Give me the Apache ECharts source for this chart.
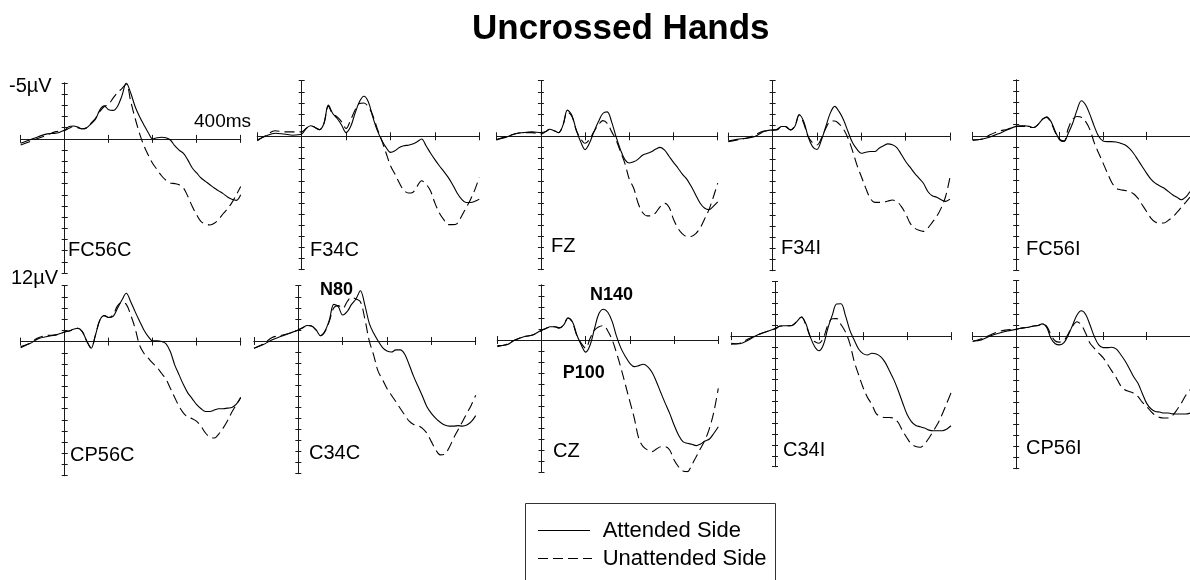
<!DOCTYPE html>
<html><head><meta charset="utf-8">
<script src="https://cdn.jsdelivr.net/npm/echarts@6/dist/echarts.min.js"></script>
<style>html,body{margin:0;padding:0;background:#fff}#c{width:1190px;height:580px}</style>
</head><body><div id="c"></div>
<script>
// time points (ms)
const times = [-100,-80,-60,-40,-20,0,10,20,30,40,50,60,70,80,90,100,110,120,130,140,150,160,170,180,190,200,210,220,230,240,250,260,270,280,290,300,310,320,330,340,350,360,370,380,390,400];
const channels = ['FC56C','F34C','FZ','F34I','FC56I','CP56C','C34C','CZ','C34I','CP56I'];

// amplitudes (µV, negative up)
const attFC56C = [0.4,0.1,-0.2,-0.45,-0.5,-0.8, -1.1,-1.15,-1.05,-0.9,-1.0,-1.35,-1.75,-2.6,-2.95,-2.6, -2.55,-2.9,-3.85,-5.0,-4.1,-2.9,-2.0,-1.25,-0.55,0, -0.1,-0.15,-0.1,0.1,0.6,1.0,1.3,1.9,2.6,3.05, 3.5,3.8,4.1,4.4,4.65,4.9,5.2,5.4,5.5,5.0];
const unFC56C = [0.55,0.25,-0.05,-0.35,-0.65,-0.75, -0.95,-1.1,-1.0,-0.9,-1.0,-1.4,-1.85,-2.45,-2.9,-3.1, -3.65,-4.15,-4.5,-4.9,-3.35,-1.85,-0.5,0.6,1.45,2.2, 2.75,3.3,3.7,3.95,4.0,4.1,4.4,5.15,6.05,6.8, 7.4,7.6,7.7,7.55,7.2,6.7,6.25,5.7,5.0,4.25];
const attF34C = [0.33,-0.03,-0.27,-0.2,-0.1,-0.2, -0.7,-0.95,-0.8,-0.6,-1.15,-2.8,-2.05,-1.6,-1.0,-0.33, -0.85,-2.05,-3.1,-3.6,-3.1,-1.75,-0.55,0.33,1.0,1.45, 1.3,1.0,0.85,0.8,0.7,0.5,0.25,0.85,1.5,2.1, 2.65,3.15,3.7,4.35,5.1,5.65,5.95,5.95,5.85,5.65];
const unF34C = [0.4,-0.1,-0.5,-0.4,-0.4,-0.4, -0.7,-0.95,-0.8,-0.6,-1.15,-2.7,-2.0,-1.75,-1.3,-0.7, -1.45,-2.35,-2.95,-3.0,-2.65,-1.9,-0.7,0.33,1.5,2.65, 3.4,4.2,4.85,5.1,5.05,4.5,4.0,4.3,4.9,6.0, 6.9,7.5,7.95,7.95,7.85,7.2,6.45,5.7,4.8,3.7];
const attFZ = [0.27,0.1,-0.2,-0.33,-0.4,-0.33, -0.4,-0.63,-0.5,-0.33,-1.0,-2.35,-1.9,-0.55,0.5,1.2, 0.6,-0.4,-1.3,-2.05,-2.2,-1.3,0.03,1.2,2.1,2.4, 2.3,2.05,1.7,1.55,1.4,1.15,1.0,1.25,1.8,2.35, 2.85,3.4,3.85,4.5,5.25,6.0,6.45,6.6,6.3,5.9];
const unFZ = [0.33,0.03,-0.2,-0.33,-0.33,-0.2, -0.4,-0.63,-0.5,-0.33,-1.0,-2.2,-1.8,-0.55,0.2,0.63, 0.27,-0.42,-1.02,-1.41,-1.17,-0.42,0.33,1.38,2.43,3.86, 4.67,6.02,6.86,7.16,7.16,6.86,6.32,6.02,6.38,7.46, 8.26,8.77,9.01,9.01,8.77,8.26,7.46,6.62,5.48,4.22];
const attF34I = [0.4,0.25,0.15,0,-0.45,-0.6, -0.6,-0.9,-0.9,-0.6,-0.9,-1.95,-1.35,0,0.9,1.15, 0.3,-0.9,-2.1,-2.7,-2.23,-1.49,-0.45,0.54,1.13,1.49, 1.4,1.34,1.34,1.04,0.83,0.65,0.74,0.98,1.58,2.23, 2.74,3.27,3.72,4.17,4.91,5.3,5.42,5.65,5.8,5.6];
const unF34I = [0.45,0.3,0.15,-0.15,-0.5,-0.55, -0.65,-0.9,-0.85,-0.6,-0.95,-1.95,-1.2,0,0.55,0.75, 0.15,-0.75,-1.35,-1.4,-1.13,-0.65,0.15,1.25,2.53,3.57, 4.61,5.5,5.89,5.89,5.86,5.77,5.68,5.8,6.25,6.9, 7.74,8.18,8.39,8.48,8.18,7.68,7.14,6.4,5.36,3.63];
const attFC56I = [0.4,0.3,0.1,-0.2,-0.55,-0.85, -0.9,-0.9,-0.85,-0.75,-1.0,-1.45,-1.7,-1.3,-0.4,0.35, 0.5,-0.24,-1.13,-2.3,-3.15,-2.77,-1.88,-0.83,0.06,0.45, 0.51,0.51,0.54,0.65,0.8,1.1,1.55,2.14,2.74,3.33, 3.87,4.23,4.46,4.67,4.97,5.27,5.5,5.71,5.48,4.97];
const unFC56I = [0.35,0.3,-0.1,-0.4,-0.6,-0.85, -0.85,-0.85,-0.75,-0.75,-1.0,-1.5,-1.65,-1.2,-0.3,0.3, 0.45,-0.68,-1.49,-1.73,-1.67,-1.28,-0.54,0.65,1.55,2.44, 3.33,4.17,4.67,4.82,4.88,4.97,5.18,5.57,6.16,6.76, 7.35,7.71,7.8,7.8,7.56,7.26,6.85,6.4,5.95,5.48];
const attCP56C = [0.45,0.2,-0.25,-0.45,-0.6,-0.85, -0.95,-1.1,-1.19,-0.89,-0.06,0.6,-0.6,-1.93,-2.32,-2.15, -2.25,-2.98,-3.72,-4.32,-3.57,-2.68,-1.85,-1.04,-0.45,-0.06, -0.06,0,0.18,0.89,2.08,2.98,3.87,4.61,5.12,5.65, 6.01,6.25,6.25,6.13,6.01,6.01,5.95,5.89,5.6,5.0];
const unCP56C = [0.55,0.15,-0.35,-0.55,-0.6,-0.85, -0.95,-1.1,-1.19,-0.89,-0.06,0.55,-0.6,-1.93,-2.32,-2.15, -2.4,-3.2,-3.5,-3.33,-2.38,-1.19,0.3,1.04,1.49,1.93, 2.32,2.83,3.36,4.17,5.0,5.8,6.4,6.76,6.9,7.14, 7.59,8.18,8.54,8.63,8.27,7.74,7.08,6.31,5.65,5.0];
const attC34C = [0.65,0.35,-0.1,-0.4,-0.7,-1.0, -1.2,-1.4,-1.35,-1.0,-0.48,-0.9,-1.9,-3.31,-3.1,-2.35, -2.65,-3.31,-3.8,-4.55,-3.25,-1.6,-0.7,0,0.6,0.9, 1.0,0.8,0.8,1.2,2.15,3.2,4.1,5.0,5.95,6.55, 7.0,7.35,7.6,7.7,7.7,7.65,7.7,7.6,7.3,6.75];
const unC34C = [0.65,0.3,-0.3,-0.5,-0.7,-1.0, -1.2,-1.4,-1.35,-1.0,-0.48,-0.85,-1.8,-3.0,-3.2,-2.95, -3.55,-3.95,-3.8,-3.55,-2.0,0.0,1.3,2.75,3.5,4.3, 4.9,5.5,6.1,6.7,7.25,7.55,7.65,7.9,8.35,9.1, 9.85,10.3,10.25,9.65,8.8,8.05,7.3,6.55,5.8,4.9];
const attCZ = [0.5,0.45,0,-0.3,-0.45,-0.9, -1.05,-1.2,-1.2,-1.1,-1.35,-2.0,-1.65,-0.45,0.45,1.1, 0.45,-1.05,-2.4,-2.8,-2.52,-1.67,-0.3,0.76,1.52,2.12, 2.42,2.33,2.21,2.42,2.94,3.79,4.79,5.76,6.67,7.73, 8.64,9.24,9.39,9.48,9.6,9.45,9.18,9.0,8.48,7.88];
const unCZ = [0.6,0.4,0,-0.3,-0.45,-0.85, -1.05,-1.2,-1.2,-1.1,-1.35,-2.0,-1.6,-0.4,0.3,0.75, -0.15,-0.9,-1.2,-1.3,-0.82,0,1.21,2.58,4.09,5.61, 7.12,8.94,9.7,10.0,10.15,9.91,9.7,9.7,10.0,10.91, 11.52,11.91,11.97,11.36,10.61,9.85,9.09,8.03,6.52,4.39];
const attC34I = [0.65,0.7,0.35,-0.1,-0.4,-0.7, -0.9,-0.95,-0.95,-1.0,-1.35,-1.75,-1.15,0.05,0.95,1.35, 0.8,-0.7,-1.9,-2.95,-2.97,-1.91,-0.55,0.36,1.18,1.61, 1.73,1.58,1.64,1.88,2.39,3.18,4.0,5.0,6.12,7.18, 7.85,8.21,8.33,8.45,8.64,8.7,8.7,8.7,8.55,8.24];
const unC34I = [0.75,0.65,0.25,-0.1,-0.4,-0.65, -0.9,-0.95,-0.95,-1.0,-1.35,-1.75,-1.05,0.05,0.5,0.65, 0.15,-1.0,-1.6,-1.61,-1.06,-0.39,0.67,2.33,3.55,4.7, 5.61,6.27,7.12,7.39,7.48,7.48,7.55,7.94,8.7,9.36, 9.91,10.15,10.21,9.91,9.36,8.7,8.03,7.18,6.21,5.21];
const attCP56I = [0.45,0.35,0,-0.25,-0.45,-0.6, -0.7,-0.75,-0.8,-0.9,-0.95,-1.1,-0.8,0.2,0.7,0.8, 0.6,-0.1,-1.0,-1.9,-2.28,-1.95,-0.99,0.06,0.81,1.05, 1.05,1.02,1.17,1.65,2.22,2.91,3.66,4.26,5.17,6.07, 6.58,6.82,6.88,6.97,6.97,7.03,7.06,7.06,7.06,6.97];
const unCP56I = [0.5,0.25,-0.1,-0.4,-0.55,-0.6, -0.7,-0.75,-0.8,-0.9,-0.95,-1.05,-0.9,-0.1,0.45,0.55, 0.4,-0.2,-0.9,-1.29,-0.99,-0.24,0.66,1.11,1.56,1.95, 2.55,3.15,3.75,4.47,4.86,5.02,5.17,5.47,5.98,6.37, 6.82,7.18,7.36,7.42,7.42,7.18,6.67,6.07,5.38,4.86];

const attended = [attFC56C, attF34C, attFZ, attF34I, attFC56I, attCP56C, attC34C, attCZ, attC34I, attCP56I];
const unattended = [unFC56C, unF34C, unFZ, unF34I, unFC56I, unCP56C, unC34C, unCZ, unC34I, unCP56I];
const seriesNames = ['Attended Side', 'Unattended Side'];
const yRange = [-5, 12];
const xRange = [-100, 400];

// layout: [left, top, width, height] of each panel
const boxes = [
  [20.7, 83, 220, 190], [257.3, 80.7, 222, 189], [496.7, 80.7, 221, 189], [728.3, 80.7, 221.7, 190], [972.7, 80, 220, 190],
  [20.7, 285.7, 220, 190], [254, 285.7, 221.7, 188], [497.3, 285, 221, 187], [731, 281.7, 220, 185], [972.7, 280.7, 220, 188]
];
const labelPos = [[68,249.5],[310,249],[551,245],[781,247.5],[1026,248],[70,454],[309,452.5],[553,450.5],[783,449],[1026,447.5]];

const FONT = '"Liberation Sans", Arial, Helvetica, sans-serif';
const AX = '#1a1a1a';
const DASH = [10, 5];
const grids = [], xAxes = [], yAxes = [], series = [];
boxes.forEach((b, i) => {
  grids.push({left: b[0], top: b[1], width: b[2], height: b[3], containLabel: false});
  [false, true].forEach(inside => {
    xAxes.push({gridIndex: i, type: 'value', min: xRange[0], max: xRange[1], interval: 100, position: 'bottom',
      axisLine: {show: true, onZero: true, lineStyle: {color: AX, width: 1}},
      axisTick: {show: true, inside: inside, length: 4, lineStyle: {color: AX, width: 1}},
      axisLabel: {show: false}, splitLine: {show: false}});
    yAxes.push({gridIndex: i, type: 'value', min: yRange[0], max: yRange[1], interval: 1, inverse: true, position: 'left',
      axisLine: {show: true, onZero: true, lineStyle: {color: AX, width: 1}},
      axisTick: {show: true, inside: inside, length: 3, lineStyle: {color: AX, width: 1}},
      axisLabel: {show: false}, splitLine: {show: false}});
  });
  const mk = (vals, name, dashed) => ({
    name: name, type: 'line', xAxisIndex: 2 * i, yAxisIndex: 2 * i,
    data: times.map((t, k) => [t, vals[k]]),
    symbol: 'none', smooth: 0.35, silent: true, animation: false,
    lineStyle: {color: '#000', width: 1.1, type: dashed ? DASH : 'solid'},
    itemStyle: {color: '#000'}
  });
  series.push(mk(attended[i], seriesNames[0], false));
  series.push(mk(unattended[i], seriesNames[1], true));
});

const txt = (s, x, y, size, bold) => ({type: 'text', left: x, top: y - size * 0.45, silent: true,
  style: {text: s, fontSize: size, fontFamily: FONT, fontWeight: bold ? 'bold' : 'normal', fill: '#000'}});
const graphics = [
  txt('-5µV', 9, 85, 20), txt('400ms', 194, 121, 19), txt('12µV', 11, 277, 20),
  txt('N80', 320, 289.5, 18, true), txt('N140', 590, 294, 18, true), txt('P100', 562.7, 371.7, 18, true)
];
channels.forEach((c, i) => graphics.push(txt(c, labelPos[i][0], labelPos[i][1], 20)));

// legend box (drawn)
graphics.push({type: 'rect', silent: true, shape: {x: 525.5, y: 503.5, width: 250, height: 100},
  style: {fill: 'none', stroke: '#333', lineWidth: 1}});
graphics.push({type: 'line', silent: true, shape: {x1: 538, y1: 530.5, x2: 590, y2: 530.5},
  style: {stroke: '#000', lineWidth: 1.1}});
graphics.push({type: 'line', silent: true, shape: {x1: 538, y1: 558.5, x2: 592, y2: 558.5},
  style: {stroke: '#000', lineWidth: 1.1, lineDash: DASH}});
graphics.push(txt(seriesNames[0], 602.7, 530, 22));
graphics.push(txt(seriesNames[1], 602.7, 558, 22));

const chart = echarts.init(document.getElementById('c'), null, {renderer: 'canvas'});
chart.setOption({
  backgroundColor: '#fff',
  animation: false,
  title: {text: 'Uncrossed Hands', left: 467, top: 7,
    textStyle: {fontSize: 35, fontWeight: 'bold', fontFamily: FONT, color: '#000'}},
  grid: grids, xAxis: xAxes, yAxis: yAxes, series: series, graphic: graphics
});
</script></body></html>
